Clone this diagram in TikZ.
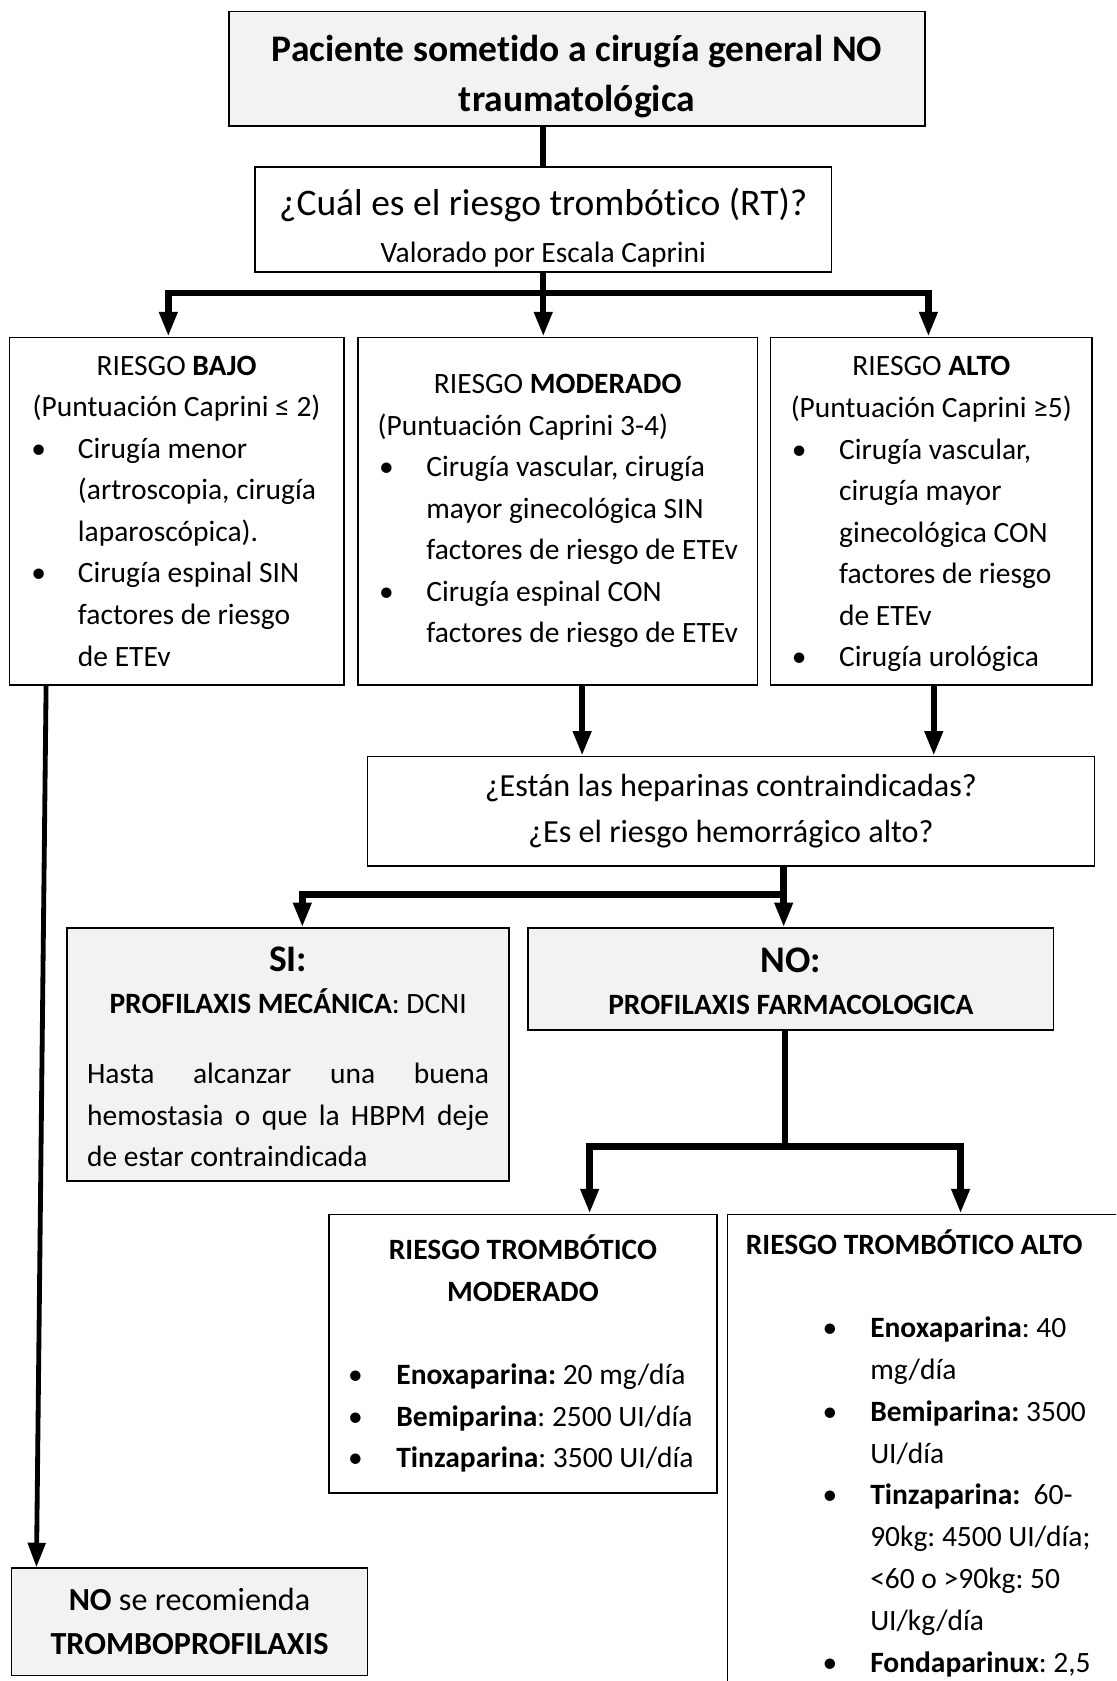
\documentclass[tikz,border=0pt]{standalone}
\usepackage{fontspec}
\setmainfont{Carlito}[Ligatures=NoCommon]
\usepackage{tikz}
\usetikzlibrary{arrows.meta}
\usetikzlibrary{calc}
\definecolor{boxgray}{HTML}{F2F2F2}
\frenchspacing
% natural word spaces inside nodes
\newcommand{\natsp}{\spaceskip=0pt\relax\xspaceskip=0pt\relax}
\newcommand{\bodyfont}{\fontsize{11}{15.5}\selectfont}
% bullet line: #1 bullet offset, #2 text offset, #3 text
\newcommand{\bitem}[3]{\par\noindent\hangindent=#2\hangafter=1\hbox to #2{\hskip #1\textbullet\hfil}#3\par}
\tikzset{
    box/.style={
        draw=black,
        line width=0.6pt,
        fill=white,
        inner sep=0pt,
        anchor=north west,
        font=\bodyfont
    },
    graybox/.style={
        box,
        fill=boxgray
    },
    boxsize/.style 2 args={
        minimum width=#1*0.4pt,
        minimum height=#2*0.4pt,
        text width=#1*0.4pt
    }
}

\begin{document}
\begin{tikzpicture}[x=0.4pt, y=-0.4pt]
  \tikzset{
    link/.style={
      line width=2.4pt
    },
    arr/.style={
      link,
      -{Triangle[length=9.2pt, width=6.4pt]}
    }
  }
  \useasboundingbox (0,0) rectangle (1041,1568);
  \clip (0,0) rectangle (1041,1568);

  % Start
  \node[graybox, boxsize={649}{107}, font={\fontsize{14}{18.8}\selectfont\bfseries}] (top) at (213,10)
    {\natsp\centering\rule{0pt}{15.4pt}Paciente sometido a cirugía general NO\\traumatológica\par};
  \node[box, boxsize={538}{98}, font={\fontsize{11}{17.6}\selectfont}] (q1) at (237,155)
    {\natsp\centering{\fontsize{14}{17.6}\selectfont\rule{0pt}{16.6pt}¿Cuál es el riesgo trombótico (RT)?\par}Valorado por Escala Caprini\par};

  % Risk levels
  \node[box, boxsize={312}{324}] (bajo) at (8,314) {\natsp
    {\centering RIESGO \textbf{BAJO}\\(Puntuación Caprini ≤ 2)\par}
    \bitem{8.2pt}{25.6pt}{Cirugía menor\newline (artroscopia, cirugía\newline laparoscópica).}
    \bitem{8.2pt}{25.6pt}{Cirugía espinal SIN\newline factores de riesgo\newline de ETEv}};
  \node[box, boxsize={373}{324}] (mod) at (333,314) {\natsp
    {\centering RIESGO \textbf{MODERADO}\par}
    \noindent\hspace*{7.4pt}(Puntuación Caprini 3-4)\par
    \bitem{8pt}{25.6pt}{Cirugía vascular, cirugía\newline mayor ginecológica SIN\newline factores de riesgo de ETEv}
    \bitem{8pt}{25.6pt}{Cirugía espinal CON\newline factores de riesgo de ETEv}};
  \node[box, boxsize={300}{324}] (alto) at (718,314) {\natsp
    {\centering\rule{0pt}{9.5pt}RIESGO \textbf{ALTO}\\(Puntuación Caprini ≥5)\par}
    \bitem{8pt}{25.6pt}{Cirugía vascular,\newline cirugía mayor\newline ginecológica CON\newline factores de riesgo\newline de ETEv}
    \bitem{8pt}{25.6pt}{Cirugía urológica}};

  % Heparins question
  \node[box, boxsize={678}{102}, font={\fontsize{12}{17.2}\selectfont}] (q2) at (342,705)
    {\natsp\centering ¿Están las heparinas contraindicadas?\\¿Es el riesgo hemorrágico alto?\par};

  % Answers
  \node[graybox, boxsize={412}{236}] (si) at (62,865) {\natsp
    \centering{\fontsize{14}{15.6}\selectfont\bfseries\rule{0pt}{11pt}SI:\par}
    \textbf{PROFILAXIS MECÁNICA}: DCNI\par
    \vspace{10.9pt}
    \parbox[t]{150pt}{\bodyfont\natsp
      \makebox[150pt][s]{Hasta alcanzar una buena}\\
      \makebox[150pt][s]{hemostasia o que la HBPM deje}\\
      de estar contraindicada}\par};
  \node[graybox, boxsize={490}{95}, font={\fontsize{11}{15.6}\selectfont\bfseries}] (no) at (492,865)
    {\natsp\centering{\fontsize{14}{15.6}\selectfont\rule{0pt}{11pt}NO:\par}PROFILAXIS FARMACOLOGICA\par};

  % Drugs
  \node[box, boxsize={362}{260}, font={\fontsize{11}{15.6}\selectfont}] (rtm) at (306,1132) {\natsp
    {\centering\bfseries RIESGO TROMBÓTICO\\MODERADO\par}
    \vspace{15.2pt}
    \bitem{7.2pt}{25.2pt}{\textbf{Enoxaparina:} 20 mg/día}
    \bitem{7.2pt}{25.2pt}{\textbf{Bemiparina}: 2500 UI/día}
    \bitem{7.2pt}{25.2pt}{\textbf{Tinzaparina}: 3500 UI/día}};
  \node[box, boxsize={420}{100}, text height=14.8pt, text depth=200pt, font={\fontsize{11}{15.6}\selectfont}] (rta) at (678,1132) {\natsp
    \noindent\hspace*{6.8pt}\textbf{RIESGO TROMBÓTICO ALTO}\par
    \vspace{15.6pt}
    \bitem{35.4pt}{53.2pt}{\textbf{Enoxaparina}: 40\newline mg/día}
    \bitem{35.4pt}{53.2pt}{\textbf{Bemiparina:} 3500\newline UI/día}
    \bitem{35.4pt}{53.2pt}{\textbf{Tinzaparina:}\ \ 60-\newline 90kg: 4500 UI/día;\newline <60 o >90kg: 50\newline UI/kg/día}
    \bitem{35.4pt}{53.2pt}{\textbf{Fondaparinux}: 2,5}};

  % No prophylaxis
  \node[graybox, boxsize={332}{100}, font={\fontsize{12}{16.4}\selectfont}] (fin) at (10,1462)
    {\natsp\centering\textbf{NO} se recomienda\\\textbf{TROMBOPROFILAXIS}\par};

  % Junctions
  \coordinate (f1) at ($(q1.south)+(0,19)$);
  \coordinate (f2) at ($(q2.south west)+(389,26)$);
  \coordinate (f3) at ($(no.south west)+(240,108)$);
  \coordinate (m1) at ($(mod.south west)+(210,0)$);
  \coordinate (a1) at ($(alto.south west)+(153,0)$);

  % Connectors
  \draw[link] (q1.north |- top.south) -- (q1.north);
  \draw[link] (q1.south) -- (f1);
  \draw[arr] (f1) -| ($(bajo.north west)+(149,0)$);
  \draw[arr] (f1) -- (f1 |- mod.north);
  \draw[arr] (f1) -| ($(alto.north west)+(148,0)$);
  \draw[arr, line width=1.8pt] ($(bajo.south west)+(35,0)$) -- ($(fin.north west)+(24,0)$);
  \draw[arr] (m1) -- (m1 |- q2.north);
  \draw[arr] (a1) -- (a1 |- q2.north);
  \draw[link] (f2 |- q2.south) -- (f2);
  \draw[arr] (f2) -| ($(si.north west)+(220,0)$);
  \draw[arr] (f2) -- (f2 |- no.north);
  \draw[link] (f3 |- no.south) -- (f3);
  \draw[arr] (f3) -| ($(rtm.north west)+(244,0)$);
  \draw[arr] (f3) -| ($(rta.north west)+(218,0)$);
\end{tikzpicture}
\end{document}
